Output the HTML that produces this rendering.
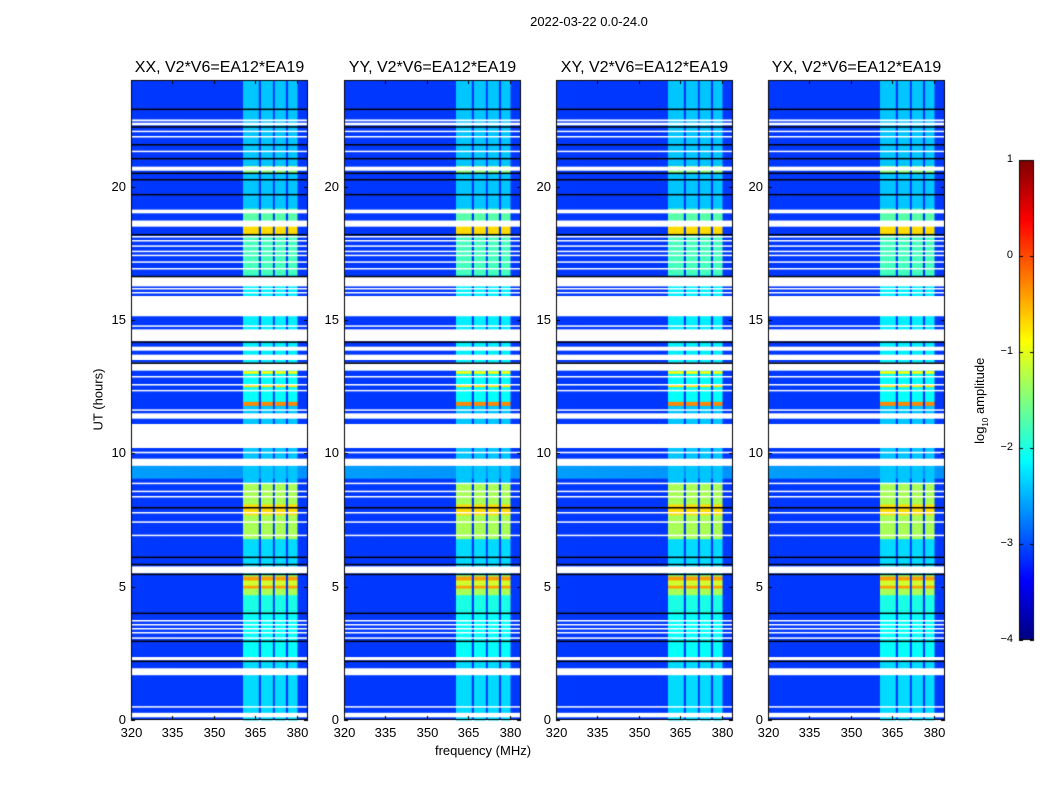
<!DOCTYPE html>
<html><head><meta charset="utf-8">
<style>
body{margin:0;background:#fff;width:1050px;height:800px;overflow:hidden;position:relative;font-family:"Liberation Sans",sans-serif;}
.t{position:absolute;font-size:13px;color:#000;white-space:nowrap}
canvas{position:absolute}
</style></head>
<body>
<canvas id="cv" width="1050" height="800" style="left:0;top:0"></canvas>
<div class="t" style="left:489px;top:14px;width:200px;text-align:center">2022-03-22 0.0-24.0</div>
<div class="t" style="left:48px;top:392px;width:100px;text-align:center;transform:rotate(-90deg)">UT (hours)</div>
<div class="t" style="left:383px;top:743px;width:200px;text-align:center">frequency (MHz)</div>
<div class="t" style="left:921px;top:392px;width:120px;text-align:center;transform:rotate(-90deg)">log<sub style="font-size:8px">10</sub> amplitude</div>
<div id="labels"></div>
<script>
// ---- data ----
const panelTitles = ["XX, V2*V6=EA12*EA19","YY, V2*V6=EA12*EA19","XY, V2*V6=EA12*EA19","YX, V2*V6=EA12*EA19"];
const xTicks = [320,335,350,365,380];
const yTicks = [0,5,10,15,20];
const cbTicks = [1,0,-1,-2,-3,-4];
// RFI bands [fStart,fEnd] MHz
const rfiBands = [[360.5,366.2],[367.0,371.3],[372.0,376.0],[376.8,380.2]];
// band amplitude by time [hStart,hEnd,log10 amp]
const bandLevels = [
 [0,2.2,-2.3],[2.2,4.0,-2.1],[4.0,4.7,-2.0],[4.7,4.95,-1.3],[4.95,5.05,-0.4],[5.05,5.25,-1.1],[5.25,5.4,-0.4],[5.4,5.46,-1.5],
 [5.46,6.0,-2.3],[6.0,6.8,-2.3],
 [6.8,7.7,-1.3],[7.7,8.1,-0.7],[8.1,8.9,-1.3],[8.9,11.8,-2.4],[11.8,11.95,-0.3],[11.95,12.5,-2.1],
 [12.5,12.6,-0.7],[12.6,13.0,-2.1],[13.0,13.1,-0.9],[13.1,16.7,-2.2],[16.7,18.2,-1.8],
 [18.2,18.55,-0.7],[18.55,19.2,-1.7],[19.2,20.5,-2.4],[20.5,20.8,-1.5],[20.8,24,-2.4]
];
// background level intervals [hStart,hEnd,level]
const bgLevels = [[9.05,9.53,-2.6],[0,24,-3.1]];
// flagged (white) intervals in hours
const flagged = [
 [0.1,0.27],[0.47,0.52],[1.68,1.94],[2.24,2.36],[3.05,3.1],[3.25,3.3],[3.4,3.45],[3.55,3.6],[3.7,3.75],
 [5.5,5.76],[6.9,6.95],[7.4,7.45],[7.75,7.8],[8.35,8.4],[8.55,8.6],[8.85,8.9],[9.53,9.8],
 [10.0,10.06],[10.2,11.1],[11.3,11.5],[11.6,11.65],[12.34,12.38],[12.55,12.6],[12.85,12.9],
 [13.1,13.4],[13.5,13.7],[13.85,14.0],[14.2,14.65],[14.75,14.8],[15.14,15.9],[16.0,16.05],[16.15,16.2],
 [16.26,16.63],[16.9,16.95],[17.15,17.2],[17.4,17.45],[17.55,17.6],[17.75,17.8],[17.95,18.0],[18.1,18.15],
 [18.5,18.73],[19.0,19.14],[20.6,20.75],[21.3,21.35],[21.85,21.9],[22.05,22.1],[22.3,22.4],[22.45,22.52]
];
// black (zero) lines in hours
const blackLines = [2.2,2.95,4.0,5.46,5.83,6.1,7.96,13.38,14.17,16.63,18.2,19.7,20.26,20.5,21.05,21.57,22.24,22.9];

// ---- layout ----
const panelsX = [131,344,556,768], pw=177, pTop=80, pBot=720, fmin=320, fmax=384, hmax=24;
const cx=(i,f)=>panelsX[i]+(f-fmin)/(fmax-fmin)*pw;
const cy=h=>pBot-h/hmax*(pBot-pTop);
function jet(v){
 let t=Math.max(0,Math.min(1,(v+4)/5));
 const r=Math.min(1,Math.max(0,Math.min(4*t-1.5,-4*t+4.5)));
 const g=Math.min(1,Math.max(0,Math.min(4*t-0.5,-4*t+3.5)));
 const b=Math.min(1,Math.max(0,Math.min(4*t+0.5,-4*t+2.5)));
 return `rgb(${r*255|0},${g*255|0},${b*255|0})`;
}
const c=document.getElementById('cv').getContext('2d');
const L=document.getElementById('labels');
function lab(txt,x,y,w,align,name,size){
 const d=document.createElement('div');d.className='t';
 
 
 d.style.left=x+'px';d.style.top=y+'px';d.style.width=w+'px';d.style.textAlign=align;
 if(size)d.style.fontSize=size+'px';
 d.textContent=txt;L.appendChild(d);
}
for(let i=0;i<4;i++){
 const x0=panelsX[i];
 bgLevels.slice().reverse().forEach(b=>{c.fillStyle=jet(b[2]);c.fillRect(x0,cy(b[1]),pw,cy(b[0])-cy(b[1]));});
 const gr=c.createLinearGradient(x0,0,x0+pw,0);gr.addColorStop(0,'rgba(0,40,255,0.0)');gr.addColorStop(1,'rgba(0,60,255,0.12)');
 c.fillStyle=gr;c.fillRect(x0,pTop,pw,pBot-pTop);
 rfiBands.forEach(fb=>{bandLevels.forEach(bl=>{
   c.fillStyle=jet(bl[2]);c.fillRect(cx(i,fb[0]),cy(bl[1]),cx(i,fb[1])-cx(i,fb[0]),cy(bl[0])-cy(bl[1])+0.5);
 });});
 c.fillStyle='#fff';
 flagged.forEach(f=>{c.fillRect(x0,cy(f[1]),pw,Math.max(1.5,cy(f[0])-cy(f[1])));});
 c.fillStyle='#000';
 blackLines.forEach(h=>{c.fillRect(x0,cy(h)-0.75,pw,1.5);});
 c.strokeStyle='#000';c.lineWidth=1;c.strokeRect(x0+0.5,pTop+0.5,pw-1,pBot-pTop-1);
 xTicks.forEach(t=>{const x=Math.round(cx(i,t))+0.5;c.beginPath();c.moveTo(x,pBot);c.lineTo(x,pBot-4);c.moveTo(x,pTop);c.lineTo(x,pTop+4);c.stroke();
   lab(String(t),x-20,pBot+5,40,'center','x-tick-label');});
 yTicks.forEach(t=>{const y=Math.round(cy(t))+0.5;c.beginPath();c.moveTo(x0,y);c.lineTo(x0+4,y);c.moveTo(x0+pw,y);c.lineTo(x0+pw-4,y);c.stroke();
   lab(String(t),x0-45,y-9,40,'right','y-tick-label');});
 lab(panelTitles[i],x0-20,59,pw+40,'center','panel-title-'+i,16);
}
const cbx=1019,cbw=15,cbt=160,cbb=640;
for(let y=cbt;y<cbb;y++){c.fillStyle=jet(1-(y-cbt)/(cbb-cbt)*5);c.fillRect(cbx,y,cbw,1);}
c.strokeStyle='#000';c.strokeRect(cbx+0.5,cbt+0.5,cbw-1,cbb-cbt-1);
cbTicks.forEach(t=>{const y=cbt+(1-t)/5*(cbb-cbt);
 c.beginPath();c.moveTo(cbx,y+0.5);c.lineTo(cbx+4,y+0.5);c.moveTo(cbx+cbw,y+0.5);c.lineTo(cbx+cbw-4,y+0.5);c.stroke();
 lab(String(t).replace('-','\u2212'),cbx-46,y-7,40,'right','colorbar-tick-label',11);});
</script>
</body></html>
